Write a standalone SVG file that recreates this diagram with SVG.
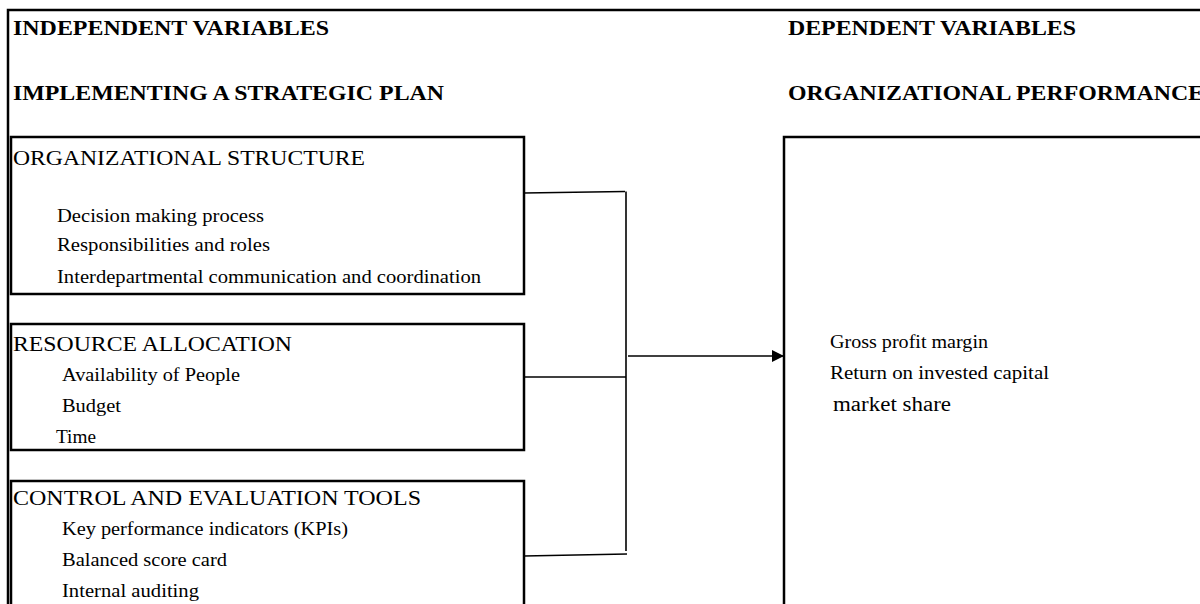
<svg xmlns="http://www.w3.org/2000/svg" width="1200" height="604" viewBox="0 0 1200 604">
<style>
.frame{fill:none;stroke:#000;stroke-width:2.5}
.box{fill:#fff;stroke:#000;stroke-width:2.5}
.conn{fill:none;stroke:#000;stroke-width:1.6}
text{font-family:"Liberation Serif","Times New Roman",serif;fill:#000}
.hd{font-size:22px;font-weight:bold}
.ttl{font-size:21px}
.itm{font-size:18px}
.big{font-size:20px}
</style>
<defs>
<marker id="ah" markerUnits="userSpaceOnUse" markerWidth="13" markerHeight="13" refX="12" refY="6" orient="auto">
<path d="M0,0 L12,6 L0,12 Z" fill="#000"/>
</marker>
</defs>
<rect width="1200" height="604" fill="#fff"/>
<g id="frame">
<path class="frame" d="M8,604 V10 H1200"/>
<text class="hd" x="13" y="35" textLength="316" lengthAdjust="spacingAndGlyphs">INDEPENDENT VARIABLES</text>
<text class="hd" x="13" y="100" textLength="431" lengthAdjust="spacingAndGlyphs">IMPLEMENTING A STRATEGIC PLAN</text>
<text class="hd" x="788" y="35" textLength="288" lengthAdjust="spacingAndGlyphs">DEPENDENT VARIABLES</text>
<text class="hd" x="788" y="100" textLength="416" lengthAdjust="spacingAndGlyphs">ORGANIZATIONAL PERFORMANCE</text>
</g>
<g id="connectors">
<path class="conn" d="M524,193 L625,191.5"/>
<path class="conn" d="M626,191.5 V551"/>
<path class="conn" d="M524,377 H626"/>
<path class="conn" d="M524,556 L627,554"/>
<path class="conn" d="M628,356 H784" marker-end="url(#ah)"/>
</g>
<g id="org-structure">
<rect class="box" x="11" y="137" width="513" height="157"/>
<text class="ttl" x="13" y="165" textLength="352" lengthAdjust="spacingAndGlyphs">ORGANIZATIONAL STRUCTURE</text>
<text class="itm" x="57" y="222" textLength="207" lengthAdjust="spacingAndGlyphs">Decision making process</text>
<text class="itm" x="57" y="251" textLength="213" lengthAdjust="spacingAndGlyphs">Responsibilities and roles</text>
<text class="itm" x="57" y="283" textLength="424" lengthAdjust="spacingAndGlyphs">Interdepartmental communication and coordination</text>
</g>
<g id="resource-allocation">
<rect class="box" x="11" y="324" width="513" height="126"/>
<text class="ttl" x="13" y="351" textLength="279" lengthAdjust="spacingAndGlyphs">RESOURCE ALLOCATION</text>
<text class="itm" x="62" y="381" textLength="178" lengthAdjust="spacingAndGlyphs">Availability of People</text>
<text class="itm" x="62" y="412" textLength="59" lengthAdjust="spacingAndGlyphs">Budget</text>
<text class="itm" x="56" y="443" textLength="40" lengthAdjust="spacingAndGlyphs">Time</text>
</g>
<g id="control-evaluation">
<rect class="box" x="11" y="481" width="513" height="140"/>
<text class="ttl" x="13" y="505" textLength="408" lengthAdjust="spacingAndGlyphs">CONTROL AND EVALUATION TOOLS</text>
<text class="itm" x="62" y="535" textLength="286" lengthAdjust="spacingAndGlyphs">Key performance indicators (KPIs)</text>
<text class="itm" x="62" y="566" textLength="165" lengthAdjust="spacingAndGlyphs">Balanced score card</text>
<text class="itm" x="62" y="597" textLength="137" lengthAdjust="spacingAndGlyphs">Internal auditing</text>
</g>
<g id="org-performance">
<path class="frame" d="M784,604 V137 H1200"/>
<text class="itm" x="830" y="348" textLength="158" lengthAdjust="spacingAndGlyphs">Gross profit margin</text>
<text class="itm" x="830" y="379" textLength="219" lengthAdjust="spacingAndGlyphs">Return on invested capital</text>
<text class="big" x="833" y="411" textLength="118" lengthAdjust="spacingAndGlyphs">market share</text>
</g>
</svg>
